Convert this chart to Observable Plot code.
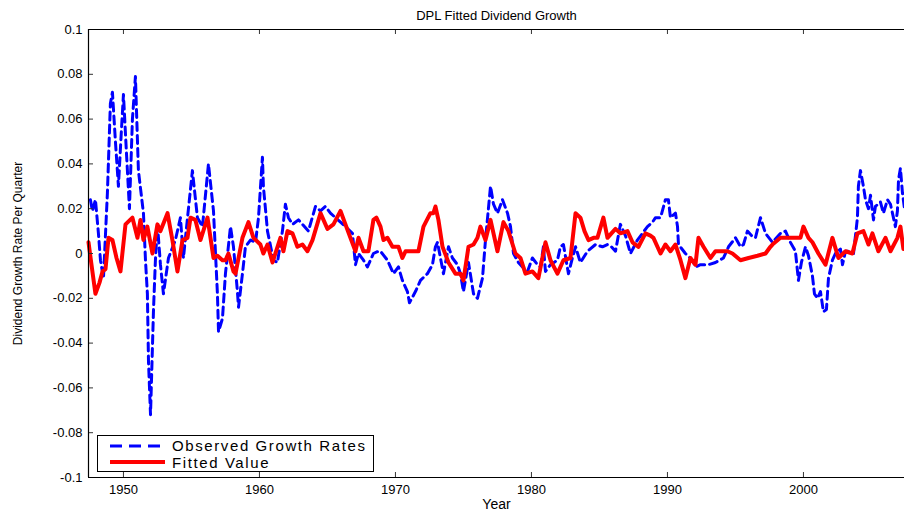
<!DOCTYPE html>
<html>
<head>
<meta charset="utf-8">
<script src="https://cdn.jsdelivr.net/npm/d3@7"></script>
<script src="https://cdn.jsdelivr.net/npm/@observablehq/plot@0.6"></script>
<style>
  body { margin: 0; background: #fff; }
  #wrap { position: relative; width: 904px; height: 510px; font-family: "Liberation Sans", Arial, Helvetica, sans-serif; }
  #legend { position: absolute; left: 97px; top: 435px; width: 277px; height: 37px; border: 1px solid #000; background: #fff; box-sizing: border-box; }
  .item { position: absolute; left: 0; height: 17px; width: 275px; }
  .item svg { position: absolute; left: 11px; top: 0; }
  .item span { position: absolute; left: 74px; top: 0; font-size: 15px; line-height: 17px; letter-spacing: 1.6px; color: #000; white-space: nowrap; }
</style>
</head>
<body>
<div id="wrap"></div>
<script>
// ---- data ----
const titleText = "DPL Fitted Dividend Growth";
const xLabelText = "Year";
const yLabelText = "Dividend Growth Rate Per Quarter";
const seriesNames = ["Observed Growth Rates", "Fitted Value"];

const xDomain = [1947.43, 2007.43];
const yDomain = [-0.1, 0.1];
const xTicks = [1950, 1960, 1970, 1980, 1990, 2000];
const yTicks = [-0.1, -0.08, -0.06, -0.04, -0.02, 0, 0.02, 0.04, 0.06, 0.08, 0.1];

const obsYear = [1947.57,1947.72,1947.94,1948.16,1948.31,1948.53,1948.82,1949.04,1949.19,1949.41,1949.63,1949.85,1950.00,1950.22,1950.44,1950.66,1950.88,1951.10,1951.47,1951.62,1951.76,1951.84,1951.99,1952.21,1952.35,1952.50,1952.72,1952.94,1953.31,1953.82,1954.19,1954.41,1954.78,1955.07,1955.44,1955.81,1956.25,1956.62,1956.91,1956.99,1957.28,1957.50,1957.87,1958.09,1958.38,1958.46,1958.75,1958.97,1959.34,1959.71,1959.93,1960.22,1960.29,1960.59,1961.03,1961.32,1961.69,1961.91,1962.13,1962.43,1962.87,1963.16,1963.60,1964.12,1964.49,1964.85,1965.22,1965.59,1965.96,1966.32,1966.84,1967.06,1967.28,1967.65,1967.94,1968.38,1968.75,1968.90,1969.41,1969.85,1970.22,1970.51,1970.88,1971.03,1971.47,1971.84,1972.35,1972.72,1972.94,1973.09,1973.53,1973.90,1974.19,1974.56,1974.78,1975.00,1975.37,1975.74,1976.03,1976.40,1976.62,1976.99,1977.21,1977.50,1977.87,1978.24,1978.46,1978.68,1979.04,1979.34,1979.71,1980.07,1980.44,1980.66,1980.88,1981.03,1981.40,1981.91,1982.13,1982.35,1982.72,1983.01,1983.24,1983.60,1984.12,1984.71,1985.22,1985.59,1985.88,1986.18,1986.54,1986.91,1987.28,1987.79,1988.16,1988.53,1988.90,1989.12,1989.49,1989.85,1990.07,1990.22,1990.59,1990.74,1990.81,1991.32,1991.84,1992.06,1992.43,1993.01,1993.53,1994.12,1994.49,1995.00,1995.37,1995.59,1995.88,1996.18,1996.47,1996.84,1997.21,1997.72,1998.31,1998.68,1999.04,1999.41,1999.63,1999.85,2000.15,2000.37,2000.66,2000.81,2001.03,2001.25,2001.47,2001.69,2001.84,2002.13,2002.35,2002.72,2002.87,2003.09,2003.46,2003.68,2003.97,2004.04,2004.19,2004.41,2004.56,2004.78,2004.93,2005.15,2005.29,2005.66,2005.88,2006.18,2006.40,2006.76,2006.91,2006.99,2007.13,2007.28,2007.43];
const obsValue = [0.024,0.019,0.024,0.009,-0.003,-0.011,0.027,0.067,0.072,0.05,0.03,0.055,0.071,0.045,0.02,0.06,0.079,0.037,0.018,-0.003,-0.018,-0.048,-0.072,-0.025,-0.003,0.013,-0.005,-0.018,-0.002,0.006,0.016,-0.002,0.02,0.037,0.016,0.012,0.040,0.019,-0.018,-0.035,-0.029,-0.009,0.012,0.003,-0.017,-0.024,-0.009,0.003,0.006,0.005,0.016,0.043,0.03,0.010,-0.003,-0.004,0.01,0.022,0.016,0.013,0.015,0.013,0.010,0.021,0.019,0.021,0.018,0.016,0.014,0.012,0.009,-0.005,0.0,-0.003,-0.006,0.0,0.001,0.001,-0.003,-0.009,-0.006,-0.012,-0.017,-0.022,-0.017,-0.012,-0.009,-0.005,0.003,0.005,-0.009,0.003,-0.002,-0.005,-0.009,-0.017,-0.004,-0.018,-0.02,-0.011,0.006,0.030,0.022,0.018,0.024,0.018,0.012,0.0,-0.004,-0.006,-0.008,-0.002,-0.005,-0.006,0.003,-0.008,-0.005,-0.003,0.003,0.004,-0.009,-0.002,0.003,-0.004,0.001,0.004,0.003,0.004,0.003,0.001,0.013,0.008,0.0,0.006,0.009,0.012,0.014,0.016,0.016,0.024,0.024,0.016,0.018,0.012,0.004,0.0,-0.003,-0.006,-0.005,-0.005,-0.004,-0.002,0.003,0.007,0.003,0.004,0.010,0.008,0.007,0.016,0.009,0.005,0.009,0.010,0.005,0.001,-0.012,-0.004,0.003,-0.001,-0.01,-0.018,-0.02,-0.017,-0.026,-0.025,-0.011,-0.003,0.0,0.002,-0.005,0.001,0.001,0.0,0.016,0.03,0.037,0.03,0.024,0.02,0.026,0.015,0.021,0.023,0.018,0.024,0.022,0.012,0.019,0.033,0.038,0.027,0.02];

const fitYear = [1947.43,1947.65,1947.94,1948.24,1948.46,1948.68,1948.90,1949.19,1949.49,1949.78,1950.15,1950.66,1951.03,1951.25,1951.47,1951.76,1952.13,1952.50,1952.72,1953.24,1953.60,1953.97,1954.34,1954.71,1954.93,1955.29,1955.66,1956.18,1956.62,1956.91,1957.28,1957.50,1957.72,1958.09,1958.24,1958.75,1959.19,1959.56,1960.07,1960.29,1960.59,1960.96,1961.54,1961.76,1962.06,1962.43,1962.79,1963.16,1963.53,1963.90,1964.49,1965.00,1965.44,1965.96,1966.69,1967.06,1967.28,1967.65,1968.01,1968.38,1968.60,1968.90,1969.12,1969.41,1969.78,1970.22,1970.51,1970.74,1971.25,1971.69,1972.06,1972.57,1972.79,1972.94,1973.16,1973.46,1973.90,1974.41,1974.78,1975.00,1975.37,1975.74,1976.03,1976.25,1976.62,1976.99,1977.50,1977.94,1978.31,1978.82,1979.19,1979.56,1980.07,1980.51,1981.03,1981.40,1981.91,1982.35,1982.87,1983.24,1983.60,1983.90,1984.19,1984.56,1984.85,1985.29,1985.59,1985.88,1986.18,1986.54,1987.06,1987.43,1987.87,1988.38,1988.75,1988.97,1989.49,1989.85,1990.22,1990.59,1990.96,1991.32,1991.69,1992.06,1992.28,1992.65,1993.16,1993.53,1994.04,1994.41,1994.78,1995.37,1995.96,1996.62,1997.21,1997.57,1997.72,1998.31,1998.90,1999.41,1999.78,2000.00,2000.37,2000.66,2001.10,2001.62,2002.13,2002.57,2003.09,2003.60,2003.97,2004.41,2004.78,2005.07,2005.51,2006.03,2006.40,2006.91,2007.13,2007.35];
const fitValue = [0.005,-0.005,-0.018,-0.013,-0.008,-0.007,0.007,0.006,-0.002,-0.008,0.013,0.016,0.007,0.015,0.006,0.012,0.0,0.013,0.010,0.018,0.006,-0.008,0.006,0.007,0.016,0.015,0.006,0.016,-0.002,-0.001,-0.003,-0.003,0.0,-0.008,-0.009,0.007,0.014,0.007,0.004,0.0,0.004,-0.004,0.007,0.001,0.010,0.009,0.003,0.004,0.001,0.006,0.018,0.011,0.013,0.019,0.007,0.001,0.007,0.001,0.001,0.015,0.016,0.012,0.006,0.007,0.003,0.003,-0.002,0.001,0.001,0.001,0.012,0.018,0.018,0.021,0.015,0.003,-0.004,-0.009,-0.009,-0.012,0.003,0.004,0.007,0.012,0.006,0.015,0.001,0.014,0.010,0.0,-0.002,-0.009,-0.008,-0.011,0.005,-0.003,-0.009,-0.003,-0.002,0.018,0.016,0.01,0.006,0.007,0.007,0.016,0.007,0.009,0.011,0.009,0.010,0.005,0.003,0.009,0.008,0.007,0.0,0.004,0.001,0.004,-0.003,-0.011,-0.002,-0.005,0.007,0.003,-0.002,0.001,0.001,0.001,0.0,-0.003,-0.002,-0.001,0.0,0.003,0.004,0.007,0.007,0.007,0.007,0.012,0.007,0.005,0.0,-0.005,0.007,-0.002,0.001,0.0,0.009,0.010,0.004,0.009,0.001,0.007,0.001,0.007,0.012,0.002];

// ---- chart ----
const font = "Liberation Sans, Arial, Helvetica, sans-serif";
const fmt = d => (Math.abs(d) < 1e-12 ? "0" : String(+d.toFixed(2)));
const W = 904, H = 510, mL = 88, mR = 0, mT = 29, mB = 33, tick = 5;
const plotW = W - mL - mR, plotH = H - mT - mB;

const chart = Plot.plot({
  width: W,
  height: H,
  marginLeft: mL,
  marginRight: mR,
  marginTop: mT,
  marginBottom: mB,
  x: {domain: xDomain, label: null},
  y: {domain: yDomain, label: null},
  style: {fontFamily: font, fontSize: "13px", color: "#000", background: "#fff", overflow: "visible"},
  marks: [
    Plot.line(obsValue, {x: obsYear, y: obsValue, stroke: "#0000ff", strokeWidth: 3, strokeDasharray: "8,5"}),
    Plot.line(fitValue, {x: fitYear, y: fitValue, stroke: "#ff0000", strokeWidth: 4, strokeLinejoin: "round"}),
    // inward tick marks (MATLAB style)
    Plot.tickY(yTicks, {y: d => d, stroke: "#333", insetRight: plotW - tick}),
    Plot.tickX(xTicks, {x: d => d, stroke: "#333", insetTop: plotH - tick}),
    Plot.tickX(xTicks, {x: d => d, stroke: "#333", insetBottom: plotH - tick}),
    // box lines
    Plot.ruleY(yDomain, {stroke: "#000", strokeWidth: 1.2}),
    Plot.ruleX(xDomain.slice(0, 1), {stroke: "#000", strokeWidth: 1.2}),
    // tick labels
    Plot.axisY({ticks: yTicks, tickSize: 0, tickPadding: 6, tickFormat: fmt, label: null, fontSize: 13, letterSpacing: 1}),
    Plot.axisX({ticks: xTicks, tickSize: 0, tickPadding: 7, tickFormat: d => String(d), label: null, fontSize: 13, letterSpacing: 2}),
    // titles
    Plot.text([titleText], {frameAnchor: "top", dy: -19, fontSize: 13, fill: "#000"}),
    Plot.text([yLabelText], {frameAnchor: "left", textAnchor: "middle", dx: -70, rotate: -90, fontSize: 12, fill: "#000"}),
    Plot.text([xLabelText], {frameAnchor: "bottom", dy: 31, fontSize: 14, fill: "#000", letterSpacing: 1})
  ]
});

const wrap = document.getElementById("wrap");
wrap.appendChild(chart);

// legend (HTML box like the reference)
const legend = document.createElement("div");
legend.id = "legend";
legend.innerHTML = `
  <div class="item" style="top:1px"><svg width="58" height="17"><line x1="1" x2="56" y1="9" y2="9" stroke="#0000ff" stroke-width="3" stroke-dasharray="12,7"/></svg><span>${seriesNames[0]}</span></div>
  <div class="item" style="top:18px"><svg width="58" height="17"><line x1="1" x2="56" y1="8" y2="8" stroke="#ff0000" stroke-width="4"/></svg><span>${seriesNames[1]}</span></div>`;
wrap.appendChild(legend);
</script>
</body>
</html>
